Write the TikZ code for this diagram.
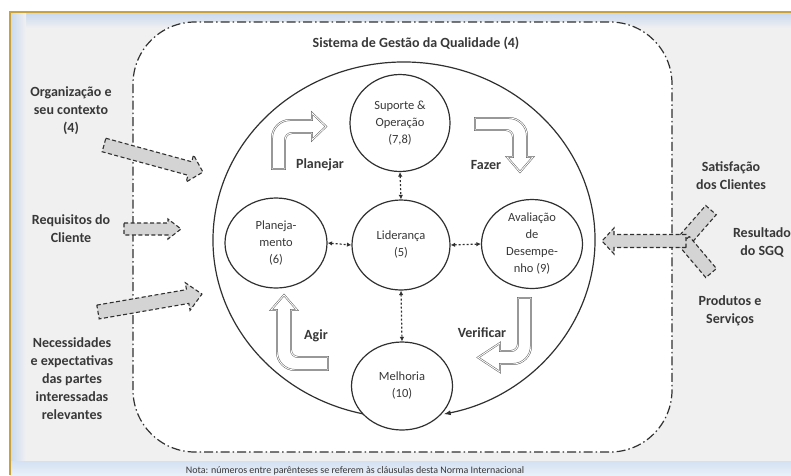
\documentclass[tikz,border=0pt]{standalone}
\usepackage{fontspec}
\setmainfont{Carlito}
\usetikzlibrary{shapes.geometric,arrows.meta}
\definecolor{gold}{HTML}{C9A23C}
\definecolor{bgc}{HTML}{F0F0F0}
\definecolor{bluish}{HTML}{C8D9EF}
\definecolor{txt}{HTML}{383838}
\definecolor{linec}{HTML}{303030}
\definecolor{grayfill}{HTML}{D4D4D4}
\tikzset{
  lbl/.style={font=\bfseries\fontsize{14}{18}\selectfont, text=txt, align=center, inner sep=0pt},
  pdca/.style={font=\bfseries\fontsize{14}{17}\selectfont, text=txt, inner sep=0pt},
  circ/.style={ellipse, draw=linec, line width=1.2pt, fill=white, inner sep=0pt,
    align=center, text=txt, font=\fontsize{12.5}{17}\selectfont},
  conn/.style={line width=1.2pt, draw=linec, dash pattern=on 2pt off 2pt,
    {Latex[length=4.5pt,width=4.5pt]}-{Latex[length=4.5pt,width=4.5pt]}},
  bent/.style={fill=white, draw=gray!75!black, line width=0.5pt, double=white, double distance=0.9pt},
  garrow/.style={fill=grayfill, draw=linec, line width=1.1pt, dash pattern=on 4pt off 2.5pt},
  sysbox/.style={fill=white, draw=linec, line width=1.2pt, rounded corners=62pt,
    dash pattern=on 9pt off 3pt on 1.5pt off 3pt},
}
\begin{document}
\begin{tikzpicture}[x=1pt,y=-1pt]
\useasboundingbox (0,0) rectangle (791,475);
\clip (0,0) rectangle (791,475);
% background
\fill[white] (0,0) rectangle (791,475);
\fill[bgc] (9,12) rectangle (791,475);
\shade[top color=bluish, bottom color=bgc] (10,13) rectangle (791,28);
\shade[left color=bluish, right color=bgc] (10,13) rectangle (26,462);
\shade[top color=bluish!80!white, bottom color=bluish!40!white] (10,461) rectangle (791,475);
\draw[gold, line width=2pt] (9.5,475) -- (9.5,12) -- (791,12);
% system boundary
\draw[sysbox] (133,22) rectangle (672,452);
\node[lbl] (title) at (416,43) {Sistema de Gestão da Qualidade (4)};
% big cycle arc
\coordinate (cyc) at (404,240);
\draw[line width=1.2pt, draw=linec, -{Latex[length=7pt,width=5pt]}]
  ([shift={(100:191 and 178)}]cyc) arc[start angle=100, end angle=438, x radius=191, y radius=178];
% PDCA bent arrows
\draw[bent] (272,169) -- (272,138) arc(180:270:18) -- (312,120) -- (312,113) -- (326,126.5)
  -- (312,140) -- (312,133) -- (292,133) arc(270:180:7) -- (285,169) -- cycle;
\draw[bent] (475,118) -- (509,118) arc(270:360:18) -- (527,157) -- (533,157) -- (520,172)
  -- (507,157) -- (513,157) -- (513,137) arc(0:-90:7) -- (475,130) -- cycle;
\draw[bent] (518,298) -- (531,298) -- (531,346) arc(0:90:18) -- (500,364) -- (500,372)
  -- (478,357.5) -- (500,343) -- (500,351) -- (511,351) arc(90:0:7) -- cycle;
\draw[bent] (328,370) -- (295,370) arc(90:180:18) -- (277,310) -- (271,310) -- (284,295)
  -- (297,310) -- (291,310) -- (291,350) arc(180:90:7) -- (328,357) -- cycle;
\node[pdca] (plan-l) at (320,165) {Planejar};
\node[pdca] (faz-l) at (486,165) {Fazer};
\node[pdca] (ver-l) at (482,333) {Verificar};
\node[pdca] (agir-l) at (316,336) {Agir};
% process nodes
\node[circ, minimum width=100pt, minimum height=97pt] (sup) at (400,123) {Suporte \&\\Operação\\(7,8)};
\node[circ, minimum width=98pt, minimum height=90pt] (lid) at (401,245) {Liderança\\(5)};
\node[circ, minimum width=102pt, minimum height=90pt] (plan) at (276,243) {Planeja-\\mento\\(6)};
\node[circ, minimum width=101pt, minimum height=89pt] (aval) at (532,244) {Avaliação\\de\\Desempe-\\nho (9)};
\node[circ, minimum width=101pt, minimum height=88pt] (mel) at (402,386) {Melhoria\\(10)};
\draw[conn] (sup.south) -- (lid.north);
\draw[conn] (plan.east) -- (lid.west);
\draw[conn] (lid.east) -- (aval.west);
\draw[conn] (lid.south) -- (mel.north);
% input arrows
\draw[garrow, shift={(104,145)}, rotate=-15.3] (0,-7) -- (89,-7) -- (89,-14) -- (102.6,0) -- (89,14) -- (89,7) -- (0,7) -- cycle;
\draw[garrow, shift={(124,229)}] (0,-6) -- (44,-6) -- (44,-10) -- (57,0) -- (44,10) -- (44,6) -- (0,6) -- cycle;
\draw[garrow, shift={(98,312)}, rotate=9.8] (0,-7) -- (91,-7) -- (91,-14) -- (105.5,0) -- (91,14) -- (91,7) -- (0,7) -- cycle;
% output arrow
\draw[garrow, shift={(684,241)}, rotate=48.9] (0,-7) rectangle (41,7);
\draw[garrow, shift={(684,241)}, rotate=-49.8] (0,-7) rectangle (42,7);
\draw[garrow, shift={(686,241)}, rotate=180] (0,-6.5) -- (72,-6.5) -- (72,-13) -- (84,0) -- (72,13) -- (72,6.5) -- (0,6.5) -- cycle;
% outside labels
\node[lbl] (org) at (71,111) {Organização e\\seu contexto\\(4)};
\node[lbl] (req) at (71,229) {Requisitos do\\Cliente};
\node[lbl] (nec) at (72,379) {Necessidades\\e expectativas\\das partes\\interessadas\\relevantes};
\node[lbl] (sat) at (731,176) {Satisfação\\dos Clientes};
\node[lbl] (res) at (762,242) {Resultado\\do SGQ};
\node[lbl] (prod) at (730,311) {Produtos e\\Serviços};
\node[font=\fontsize{10}{12}\selectfont, text=txt, inner sep=0pt] (note) at (355,471)
  {Nota: números entre parênteses se referem às cláusulas desta Norma Internacional};
\end{tikzpicture}
\end{document}
